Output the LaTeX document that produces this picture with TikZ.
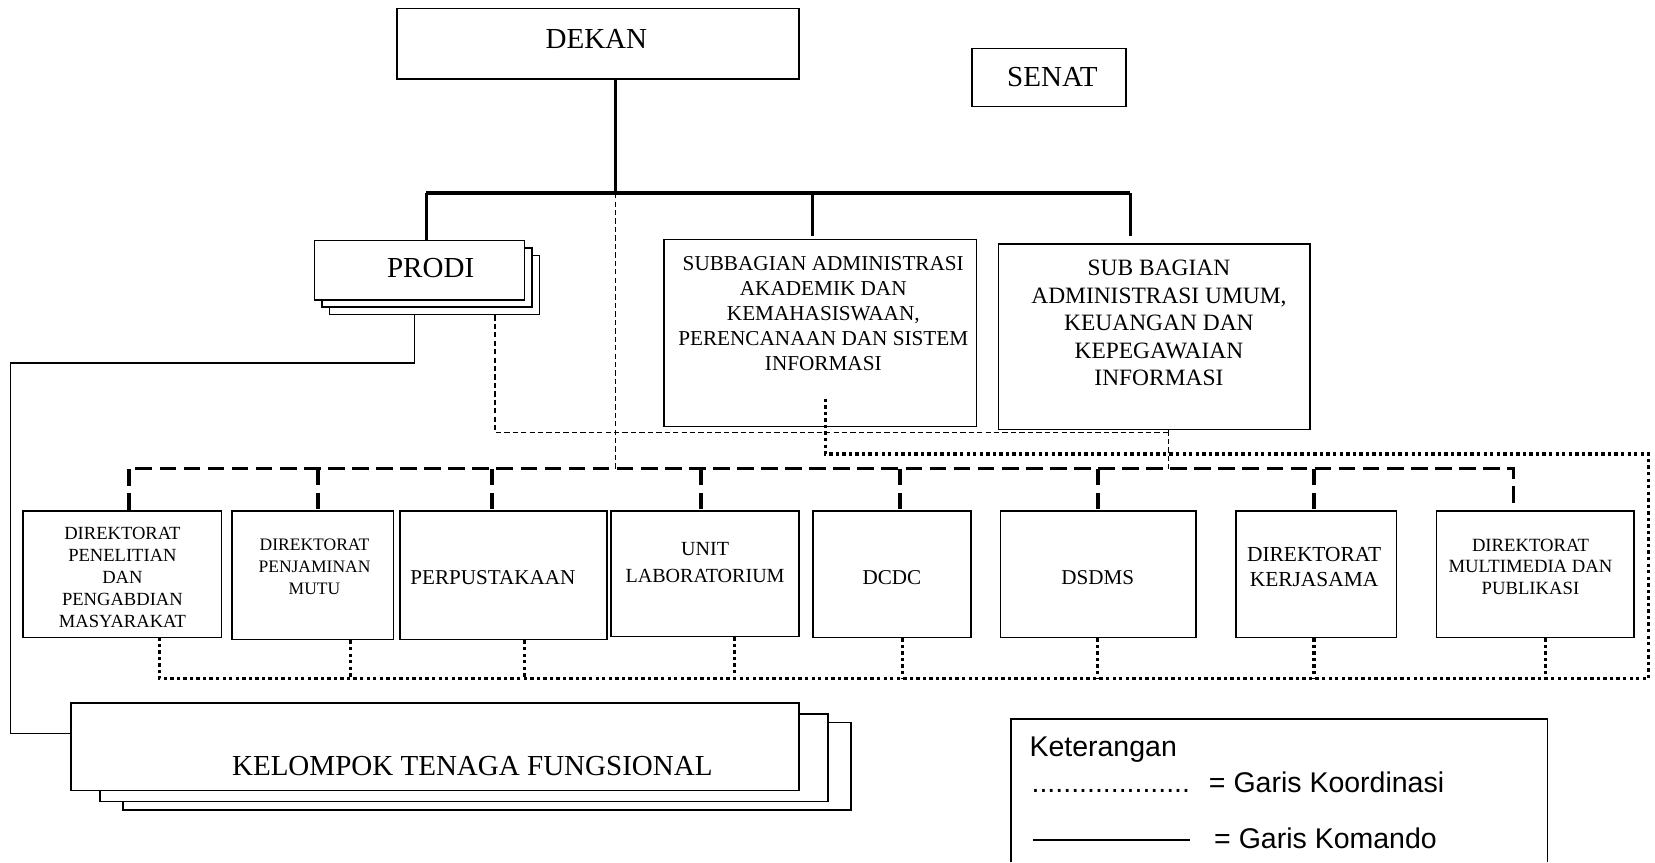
\documentclass[tikz,border=0pt]{standalone}
\usepackage{fontspec}
\setmainfont{Liberation Serif}
\setsansfont{Liberation Sans}
\usetikzlibrary{calc}

\begin{document}
\begin{tikzpicture}[x=0.5pt,y=-0.5pt,
  kotak/.style={draw,line width=0.75pt,fill=white,inner sep=0pt},
  teks/.style={align=center,inner sep=0pt},
  besar/.style={font=\fontsize{13.75}{16.5}\selectfont},
  ket/.style={inner sep=0pt,anchor=base west,font=\sffamily\fontsize{13.5}{16}\selectfont},
  komando/.style={line width=1.5pt},
  batang/.style={line width=2pt},
  komtipis/.style={line width=0.65pt},
  putus/.style={line width=0.6pt,dash pattern=on 2.5pt off 1.5pt},
  putustebal/.style={line width=1.75pt,dash pattern=on 7.9pt off 3.5pt},
  titik/.style={line width=1.6pt,dash pattern=on 1.6pt off 1.5pt}]
  \useasboundingbox (0,0) rectangle (1568,817);

  \node [kotak,minimum width=190.5pt,minimum height=33.5pt] (d) at (566.5,41.5) {};
  \node [teks,besar] (dt) at (565,37) {DEKAN};
  \node [kotak,minimum width=73pt,minimum height=27.5pt] (s) at (994,73.5) {};
  \node [teks,besar] (st) at (997,73) {SENAT};

  \node [kotak,minimum width=99.5pt,minimum height=28pt] (p3) at (411.5,270) {};
  \node [kotak,minimum width=99.5pt,minimum height=28pt] (p2) at (404.5,263) {};
  \node [kotak,minimum width=99.5pt,minimum height=28pt] (p) at (397.5,256) {};
  \node [teks,besar] (pt) at (408,254) {PRODI};

  \node [kotak,minimum width=148pt,minimum height=88.5pt] (sa) at (777,315.5) {};
  \node [teks,font=\fontsize{10.05}{11.9}\selectfont] (sat) at (780,297)
    {SUBBAGIAN ADMINISTRASI\\AKADEMIK DAN\\KEMAHASISWAAN,\\PERENCANAAN DAN SISTEM\\INFORMASI};
  \node [kotak,minimum width=147.5pt,minimum height=88pt] (sb) at (1093.5,319) {};
  \node [teks,font=\fontsize{11.1}{13}\selectfont] (sbt) at (1098,306)
    {SUB BAGIAN\\ADMINISTRASI UMUM,\\KEUANGAN DAN\\KEPEGAWAIAN\\INFORMASI};

  \node [kotak,minimum width=94pt,minimum height=60pt] (b1) at (116,544) {};
  \node [teks,font=\fontsize{8.8}{10.5}\selectfont] (t1) at (116,547)
    {DIREKTORAT\\PENELITIAN\\DAN\\PENGABDIAN\\MASYARAKAT};
  \node [kotak,minimum width=76.5pt,minimum height=61pt] (b2) at (296.5,545) {};
  \node [teks,font=\fontsize{8.3}{10.5}\selectfont] (t2) at (298,537)
    {DIREKTORAT\\PENJAMINAN\\MUTU};
  \node [kotak,minimum width=98pt,minimum height=61pt] (b3) at (477,545) {};
  \node [teks,font=\fontsize{10}{12}\selectfont] (t3) at (467,547) {PERPUSTAKAAN};
  \node [kotak,minimum width=89pt,minimum height=59.5pt] (b4) at (668,543.5) {};
  \node [teks,font=\fontsize{9.5}{12.5}\selectfont] (t4) at (668,533) {UNIT\\LABORATORIUM};
  \node [kotak,minimum width=75pt,minimum height=60pt] (b5) at (845,544) {};
  \node [teks,font=\fontsize{10}{12}\selectfont] (t5) at (845,547) {DCDC};
  \node [kotak,minimum width=92.5pt,minimum height=60pt] (b6) at (1040.5,544) {};
  \node [teks,font=\fontsize{10}{12}\selectfont] (t6) at (1040,547) {DSDMS};
  \node [kotak,minimum width=76pt,minimum height=60pt] (b7) at (1247,544) {};
  \node [teks,font=\fontsize{10.15}{12}\selectfont] (t7) at (1245,537) {DIREKTORAT\\KERJASAMA};
  \node [kotak,minimum width=93.5pt,minimum height=60pt] (b8) at (1454.5,544) {};
  \node [teks,font=\fontsize{8.85}{10.25}\selectfont] (t8) at (1450,537)
    {DIREKTORAT\\MULTIMEDIA DAN\\PUBLIKASI};

  \node [kotak,minimum width=345pt,minimum height=41.5pt] (k3) at (461.5,726) {};
  \node [kotak,minimum width=345pt,minimum height=41.5pt] (k2) at (439.5,718) {};
  \node [kotak,minimum width=345pt,minimum height=41.5pt] (k) at (412,707.5) {};
  \node [teks,besar] (kt) at (447.5,726) {KELOMPOK TENAGA FUNGSIONAL};

  \coordinate (j) at (583,183);
  \coordinate (bl) at (404,183);
  \coordinate (bm) at (770,183);
  \coordinate (br) at (1071,183);
  \draw [komando] (d.south -| j) -- (j);
  \draw [batang] (bl) -- (br);
  \draw [komando] (bl) -- (bl |- p.north);
  \draw [komando,shorten >=1.5pt] (bm) -- (bm |- sa.north);
  \draw [komando,shorten >=3.5pt] (br) -- (br |- sb.north);

  \coordinate (g) at (583,444);
  \draw [putus] (j) -- (g);
  \draw [putus] (469,0 |- p3.south) -- (469,410) -- (1107,410);
  \draw [putus] (1107,0 |- sb.south) -- (1107,444);

  \draw [putustebal] (122,0 |- b1.north) -- (122,444) -- (1434,444) -- (1434,0 |- b8.north);
  \draw [putustebal] (301,444) -- (301,0 |- b2.north);
  \draw [putustebal] (466,444) -- (466,0 |- b3.north);
  \draw [putustebal] (664,444) -- (664,0 |- b4.north);
  \draw [putustebal] (853,444) -- (853,0 |- b5.north);
  \draw [putustebal] (1040,444) -- (1040,0 |- b6.north);
  \draw [putustebal] (1245,444) -- (1245,0 |- b7.north);

  \draw [titik] ($(sa.south)+(5,-27)$) -- (782,430) -- (1562,430) -- (1562,643) -- (151,643)
    -- (151,0 |- b1.south);
  \draw [titik] (332,0 |- b2.south) -- (332,643);
  \draw [titik] (497,0 |- b3.south) -- (497,643);
  \draw [titik] (696,0 |- b4.south) -- (696,643);
  \draw [titik] (855,0 |- b5.south) -- (855,643);
  \draw [titik] (1040,0 |- b6.south) -- (1040,643);
  \draw [titik] (1245,0 |- b7.south) -- (1245,643);
  \draw [titik] (1464,0 |- b8.south) -- (1464,643);

  \draw [komtipis] (393,0 |- p3.south) -- (393,344) -- (10,344) -- (10,695) -- (k.west |- 10,695);

  \draw [line width=0.75pt] (958,817) -- (958,681) -- (1466,681) -- (1466,817);
  \node [ket] (ka) at (975,717) {Keterangan};
  \node [ket] (kb) at (977,751) {....................};
  \node [ket] (kc) at (1145,751) {= Garis Koordinasi};
  \coordinate (la) at (979,796);
  \coordinate (lb) at (1127,796);
  \draw [line width=0.75pt] (la) -- (lb);
  \node [ket] (kd) at (1150,804) {= Garis Komando};
\end{tikzpicture}
\end{document}
